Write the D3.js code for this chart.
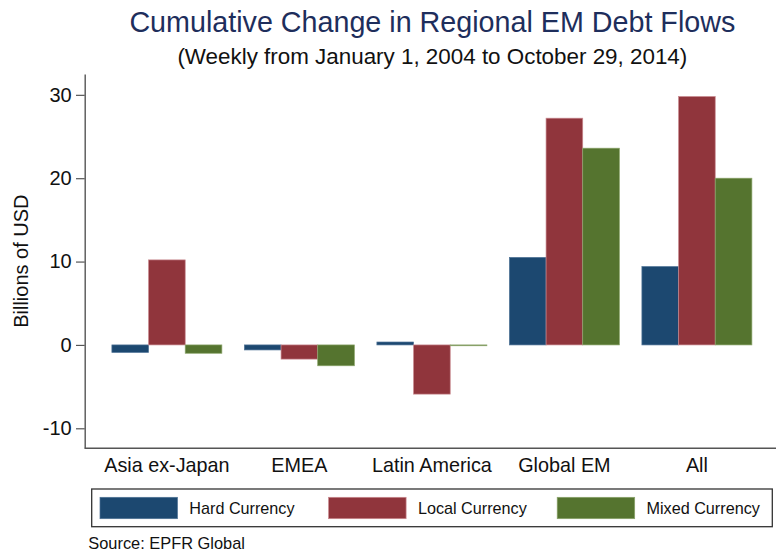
<!DOCTYPE html>
<html>
<head>
<meta charset="utf-8">
<script src="https://cdn.jsdelivr.net/npm/d3@7"></script>
<style>
  body { margin: 0; background: #fff; }
  svg { display: block; font-family: Arial, 'Liberation Sans', sans-serif; }
</style>
</head>
<body>
<div id="container"></div>
<script>
const w = 776;
const h = 554;

const categories = ['Asia ex-Japan', 'EMEA', 'Latin America', 'Global EM', 'All'];
const seriesNames = ['Hard Currency', 'Local Currency', 'Mixed Currency'];
const hardCurrency = [-0.9, -0.6, 0.35, 10.5, 9.4];
const localCurrency = [10.2, -1.7, -5.9, 27.2, 29.8];
const mixedCurrency = [-1.0, -2.5, -0.1, 23.6, 20.0];
const yTicks = [-10, 0, 10, 20, 30];

const colors = ['#1c4870', '#90353c', '#55742f'];
const outlines = ['#4f7396', '#c98a90', '#8aa46a'];

const plotLeft = 84.7;
const plotRight = 776;
const plotTop = 74;
const plotBottom = 448.3;

const seriesValues = [hardCurrency, localCurrency, mixedCurrency];
const rows = categories.map((c, i) => ({
  category: c,
  values: seriesNames.map((s, j) => ({series: s, index: j, value: seriesValues[j][i]}))
}));

const svg = d3.select('#container')
  .append('svg')
  .attr('width', w)
  .attr('height', h);

const xScale = d3.scaleBand()
  .domain(categories)
  .range([plotLeft, plotRight])
  .paddingInner(0.17)
  .paddingOuter(0.1936)
  .align(0.53);
const subScale = d3.scaleBand()
  .domain(seriesNames)
  .range([0, xScale.bandwidth()]);
const yScale = d3.scaleLinear()
  .domain([-12.4, 32.5])
  .range([plotBottom, plotTop]);

// titles
svg.append('text')
  .text('Cumulative Change in Regional EM Debt Flows')
  .attr('x', (plotLeft + plotRight) / 2 + 2)
  .attr('y', 31.5)
  .attr('text-anchor', 'middle')
  .style('font-size', '28.7px')
  .attr('fill', '#1e2e5c');
svg.append('text')
  .text('(Weekly from January 1, 2004 to October 29, 2014)')
  .attr('x', (plotLeft + plotRight) / 2 + 2)
  .attr('y', 64)
  .attr('text-anchor', 'middle')
  .style('font-size', '22.4px')
  .attr('fill', '#111');

// bars
const groups = svg.selectAll('g.group')
  .data(rows)
  .enter()
  .append('g')
  .attr('class', 'group')
  .attr('transform', d => `translate(${xScale(d.category)},0)`);
groups.selectAll('rect')
  .data(d => d.values)
  .enter()
  .append('rect')
  .attr('x', d => subScale(d.series))
  .attr('y', d => yScale(Math.max(0, d.value)))
  .attr('width', subScale.bandwidth())
  .attr('height', d => Math.abs(yScale(d.value) - yScale(0)))
  .attr('fill', d => colors[d.index])
  .attr('stroke', d => outlines[d.index])
  .attr('stroke-width', 0.7);

// axes
const yAxis = d3.axisLeft(yScale)
  .tickValues(yTicks)
  .tickFormat(d => String(d))
  .tickSize(8.7)
  .tickSizeOuter(0)
  .tickPadding(4.3);
const yAxisG = svg.append('g')
  .attr('transform', `translate(${plotLeft},0)`)
  .call(yAxis);
yAxisG.selectAll('text')
  .style('font-size', '20px')
  .attr('fill', '#111');

const xAxis = d3.axisBottom(xScale)
  .tickSize(0)
  .tickSizeOuter(0)
  .tickPadding(10);
const xAxisG = svg.append('g')
  .attr('transform', `translate(0,${plotBottom})`)
  .call(xAxis);
xAxisG.selectAll('text')
  .style('font-size', '19.8px')
  .attr('fill', '#111');

[yAxisG, xAxisG].forEach(g => {
  g.select('.domain').attr('stroke', '#555').attr('stroke-width', 1.4);
  g.selectAll('.tick line').attr('stroke', '#555').attr('stroke-width', 1.2);
});
// make the bottom axis run the full plot width
xAxisG.select('.domain').attr('d', `M${plotLeft},0H${plotRight}`);

svg.append('text')
  .text('Billions of USD')
  .attr('transform', `translate(28,${(plotTop + plotBottom) / 2}) rotate(-90)`)
  .attr('text-anchor', 'middle')
  .style('font-size', '20px')
  .attr('fill', '#111');

// legend
const legend = svg.append('g')
  .attr('transform', 'translate(91.7,489)');
legend.append('rect')
  .attr('width', 680.6)
  .attr('height', 37.7)
  .attr('fill', 'none')
  .attr('stroke', '#333')
  .attr('stroke-width', 1.3);
const legendScale = d3.scaleBand()
  .domain(seriesNames)
  .range([8.3, 8.3 + 3 * 228.6]);
const items = legend.selectAll('g.item')
  .data(seriesNames)
  .enter()
  .append('g')
  .attr('class', 'item')
  .attr('transform', d => `translate(${legendScale(d)},0)`);
items.append('rect')
  .attr('y', 8.3)
  .attr('width', 77.5)
  .attr('height', 21.4)
  .attr('fill', (d, i) => colors[i])
  .attr('stroke', (d, i) => outlines[i])
  .attr('stroke-width', 0.7);
items.append('text')
  .text(d => d)
  .attr('x', 89.3)
  .attr('y', 25)
  .style('font-size', '16.2px')
  .attr('fill', '#111');

svg.append('text')
  .text('Source: EPFR Global')
  .attr('x', 88.3)
  .attr('y', 549)
  .style('font-size', '16.4px')
  .attr('fill', '#111');
</script>
</body>
</html>
